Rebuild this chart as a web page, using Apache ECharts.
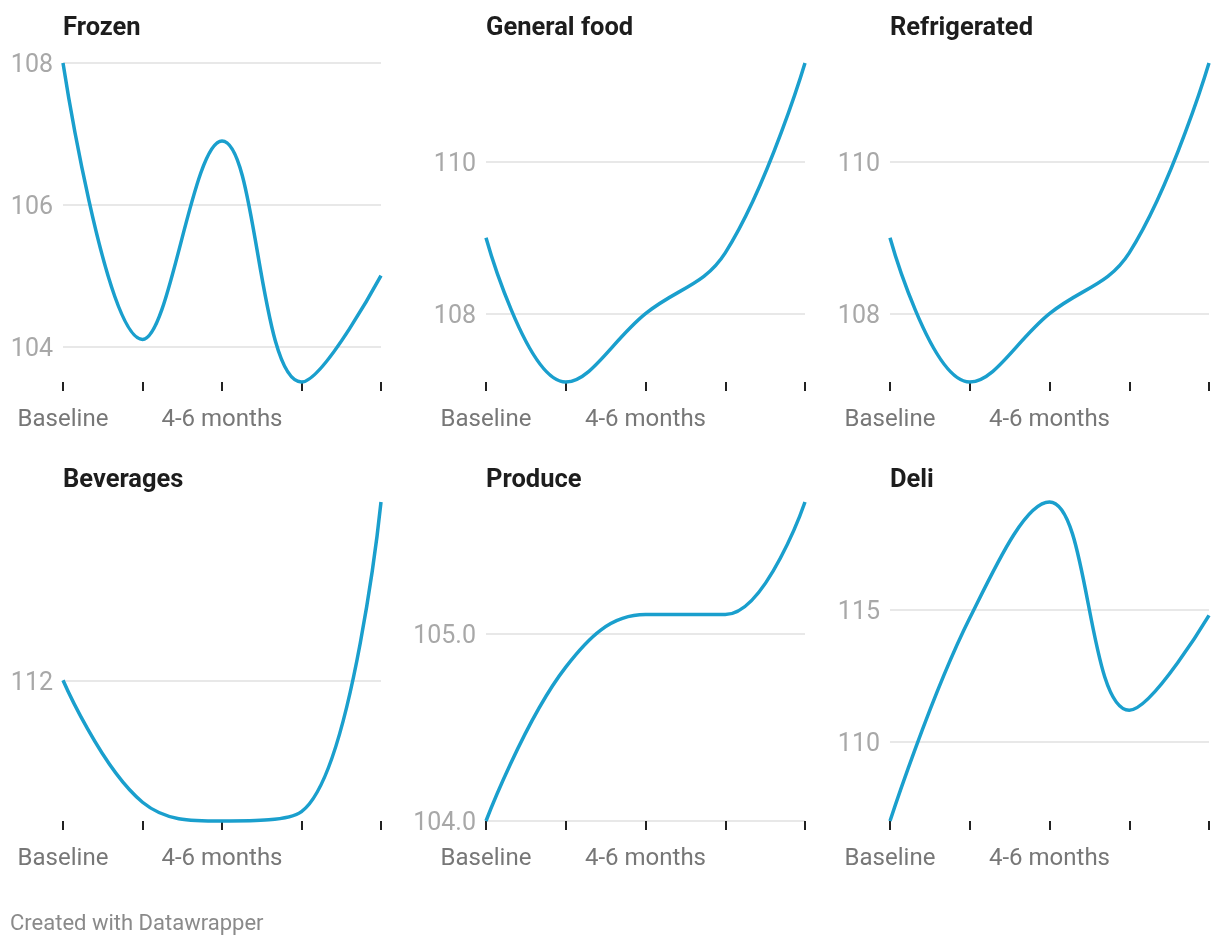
<!DOCTYPE html>
<html>
<head>
<meta charset="utf-8">
<script src="https://cdn.jsdelivr.net/npm/echarts@6/dist/echarts.min.js"></script>
<style>
  html, body { margin: 0; padding: 0; background: #fff; }
  #chart { width: 1220px; height: 948px; }
</style>
</head>
<body>
<div id="chart"></div>
<script>
const categories = ["Baseline", "1-3 months", "4-6 months", "7-9 months", "10-12 months"];
const shownLabels = ["Baseline", "4-6 months"];

const frozen = [108.0, 104.1, 106.9, 103.5, 105.0];
const generalFood = [109.0, 107.1, 108.0, 108.8, 111.3];
const refrigerated = [109.0, 107.1, 108.0, 108.8, 111.3];
const beverages = [112.0, 110.7, 110.5, 110.6, 113.9];
const produce = [104.0, 104.82, 105.1, 105.1, 105.7];
const deli = [107.0, 114.7, 119.1, 111.2, 114.8];

const frozenTicks = [104, 106, 108];
const generalFoodTicks = [108, 110];
const refrigeratedTicks = [108, 110];
const beveragesTicks = [112];
const produceTicks = [104, 105];
const deliTicks = [110, 115];

const panels = [
  { title: "Frozen", data: frozen, ticks: frozenTicks, dec: 0 },
  { title: "General food", data: generalFood, ticks: generalFoodTicks, dec: 0 },
  { title: "Refrigerated", data: refrigerated, ticks: refrigeratedTicks, dec: 0 },
  { title: "Beverages", data: beverages, ticks: beveragesTicks, dec: 0 },
  { title: "Produce", data: produce, ticks: produceTicks, dec: 1 },
  { title: "Deli", data: deli, ticks: deliTicks, dec: 0 }
];

const colLeft = [63, 486, 890];
const colWidth = [318, 319, 319];
const rowTop = [63, 502];
const plotH = 319;
const titleTop = [16, 468];
const lineColor = "#1a9fcd";
const FONT = "Roboto, 'Noto Sans', sans-serif";

const chart = echarts.init(document.getElementById("chart"), null, { renderer: "canvas" });

const grids = [], xAxes = [], yAxes = [], series = [], titles = [];
panels.forEach((p, i) => {
  const c = i % 3, r = Math.floor(i / 3);
  grids.push({ left: colLeft[c], top: rowTop[r], width: colWidth[c], height: plotH, containLabel: false });
  titles.push({
    text: p.title, left: colLeft[c], top: titleTop[r], padding: 0,
    textStyle: { fontFamily: FONT, fontSize: 25.5, fontWeight: "bold", color: "#1d1d1d" }
  });
  xAxes.push({
    type: "category", gridIndex: i, data: categories, boundaryGap: false,
    axisLine: { show: false },
    axisTick: { show: true, interval: 0, length: 9, lineStyle: { color: "#222", width: 2 } },
    axisLabel: {
      interval: (idx, val) => shownLabels.indexOf(val) >= 0,
      margin: 26, color: "#777", fontFamily: FONT, fontSize: 24
    },
    splitLine: { show: false }
  });
  yAxes.push({
    type: "value", gridIndex: i,
    min: v => v.min, max: v => v.max, scale: true,
    axisLine: { show: false },
    axisTick: { show: false, customValues: p.ticks },
    axisLabel: {
      customValues: p.ticks, margin: 10, color: "#a8a8a8", fontFamily: FONT, fontSize: 25,
      verticalAlign: "top", lineHeight: 6,
      formatter: v => Number(v).toFixed(p.dec)
    },
    splitLine: { show: true, lineStyle: { color: "#e0e0e0", width: 1.5 } }
  });
  series.push({
    type: "line", xAxisIndex: i, yAxisIndex: i, data: p.data,
    smooth: 0.4, showSymbol: false, symbol: "none",
    lineStyle: { color: lineColor, width: 3.5 }, clip: false, silent: true
  });
});

titles.push({
  text: "Created with Datawrapper", left: 10, top: 913, padding: 0,
  textStyle: { fontFamily: FONT, fontSize: 22, fontWeight: "normal", color: "#8a8a8a" }
});

chart.setOption({
  animation: false,
  backgroundColor: "#ffffff",
  title: titles,
  grid: grids,
  xAxis: xAxes,
  yAxis: yAxes,
  series: series
});
</script>
</body>
</html>
